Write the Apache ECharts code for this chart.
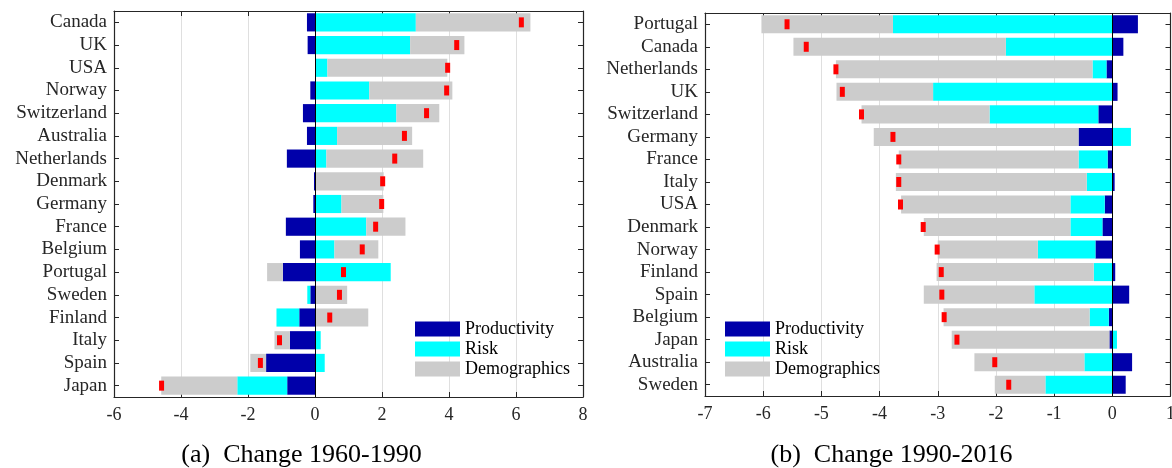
<!DOCTYPE html>
<html>
<head>
<meta charset="utf-8">
<script src="https://cdn.jsdelivr.net/npm/echarts@6/dist/echarts.min.js"></script>
<style>html,body{margin:0;padding:0;background:#fff}#c{width:1172px;height:468px}</style>
</head>
<body>
<div id="c"></div>
<script>
// Panel (a): Change 1960-1990
const countriesA = ['Canada','UK','USA','Norway','Switzerland','Australia','Netherlands','Denmark','Germany','France','Belgium','Portugal','Sweden','Finland','Italy','Spain','Japan'];
const prodA  = [-0.24,-0.22, 0.03,-0.14,-0.36,-0.24,-0.84,-0.03,-0.05,-0.87,-0.45,-0.96,-0.14,-0.47,-0.75,-1.46,-0.83];
const riskA  = [ 3.01, 2.84, 0.34, 1.62, 2.43, 0.66, 0.34, 0.01, 0.79, 1.53, 0.58, 2.26,-0.09,-0.68, 0.17, 0.29,-1.49];
const demoA  = [ 3.42, 1.62, 3.58, 2.48, 1.28, 2.24, 2.89, 2.04, 1.25, 1.17, 1.31,-0.47, 0.96, 1.59,-0.46,-0.47,-2.27];
const totalA = [ 6.16, 4.23, 3.96, 3.93, 3.33, 2.67, 2.38, 2.02, 1.99, 1.81, 1.41, 0.85, 0.73, 0.44,-1.06,-1.63,-4.58];
const ticksA = [-6,-4,-2,0,2,4,6,8];

// Panel (b): Change 1990-2016
const countriesB = ['Portugal','Canada','Netherlands','UK','Switzerland','Germany','France','Italy','USA','Denmark','Norway','Finland','Spain','Belgium','Japan','Australia','Sweden'];
const prodB  = [ 0.44, 0.19,-0.10, 0.09,-0.24,-0.58,-0.08, 0.04,-0.13,-0.17,-0.29, 0.05, 0.29,-0.06,-0.05, 0.34, 0.23];
const riskB  = [-3.77,-1.83,-0.24,-3.08,-1.87, 0.32,-0.50,-0.44,-0.59,-0.55,-0.99,-0.32,-1.34,-0.33, 0.08,-0.48,-1.15];
const demoB  = [-2.26,-3.65,-4.41,-1.66,-2.20,-3.52,-3.09,-3.28,-2.91,-2.52,-1.72,-2.70,-1.90,-2.51,-2.71,-1.89,-0.87];
const totalB = [-5.59,-5.26,-4.75,-4.64,-4.31,-3.77,-3.67,-3.67,-3.64,-3.25,-3.01,-2.94,-2.93,-2.89,-2.67,-2.02,-1.78];
const ticksB = [-7,-6,-5,-4,-3,-2,-1,0,1];

const legendNames = ['Productivity','Risk','Demographics'];
const caption = ['(a)  Change 1960-1990', '(b)  Change 1990-2016'];

const FONT = 'Liberation Serif';
const AX = '#262626';
const COL = {prod:'#0000AA', risk:'#00FFFF', demo:'#CCCCCC', total:'#FF0000'};

function xAxes(gi, ticks) {
  const mn = ticks[0], mx = ticks[ticks.length-1], iv = ticks[1]-ticks[0];
  return [
    {gridIndex:gi, type:'value', position:'bottom', min:mn, max:mx, interval:iv,
     axisLine:{show:true, onZero:false, lineStyle:{color:AX, width:1.2}},
     axisTick:{show:true, inside:true, length:5, lineStyle:{color:AX}},
     axisLabel:{color:AX, fontFamily:FONT, fontSize:18, margin:9},
     splitLine:{show:true, lineStyle:{color:'#dfdfdf', width:1}}},
    {gridIndex:gi, type:'value', position:'top', min:mn, max:mx, interval:iv,
     axisLine:{show:true, onZero:false, lineStyle:{color:AX, width:1.2}},
     axisTick:{show:true, inside:true, length:5, lineStyle:{color:AX}},
     axisLabel:{show:false}, splitLine:{show:false}}
  ];
}
function yAxes(gi, cats) {
  return [
    {gridIndex:gi, type:'category', data:cats, inverse:true, position:'left',
     axisLine:{show:true, onZero:false, lineStyle:{color:AX, width:1.2}},
     axisTick:{show:true, inside:true, length:5, alignWithLabel:true, interval:0, lineStyle:{color:AX}},
     axisLabel:{color:AX, fontFamily:FONT, fontSize:19, margin:7, interval:0},
     splitLine:{show:false}},
    {gridIndex:gi, type:'category', data:cats, inverse:true, position:'right',
     axisLine:{show:true, onZero:false, lineStyle:{color:AX, width:1.2}},
     axisTick:{show:true, inside:true, length:5, alignWithLabel:true, interval:0, lineStyle:{color:AX}},
     axisLabel:{show:false}, splitLine:{show:false}}
  ];
}
function bars(gi, prod, risk, demo, total) {
  const xi = gi*2, yi = gi*2, st = 'stack'+gi;
  const mk = (name, data, color, extra) => Object.assign({
    name, type:'bar', stack:st, xAxisIndex:xi, yAxisIndex:yi, data,
    barWidth:'80%', itemStyle:{color}, emphasis:{disabled:true}, animation:false
  }, extra||{});
  return [
    mk(legendNames[0], prod, COL.prod, {
      markLine:{silent:true, symbol:'none', label:{show:false}, z:5,
        lineStyle:{color:'#000', width:1, type:'solid'}, data:[{xAxis:0}]}
    }),
    mk(legendNames[1], risk, COL.risk),
    mk(legendNames[2], demo, COL.demo),
    {name:'Total'+gi, type:'scatter', xAxisIndex:xi, yAxisIndex:yi,
     data: total.map((v,i)=>[v,i]), symbol:'rect', symbolSize:[5,10], z:10,
     itemStyle:{color:COL.total, opacity:1}, emphasis:{disabled:true}, animation:false}
  ];
}

const chart = echarts.init(document.getElementById('c'), null, {renderer:'canvas'});
chart.setOption({
  backgroundColor:'#fff',
  animation:false,
  grid:[
    {left:114, right:589, top:11, bottom:71, outerBoundsMode:'none', containLabel:false},
    {left:705, right:1.5, top:13, bottom:72, outerBoundsMode:'none', containLabel:false}
  ],
  xAxis:[...xAxes(0, ticksA), ...xAxes(1, ticksB)],
  yAxis:[...yAxes(0, countriesA), ...yAxes(1, countriesB)],
  legend:[
    {data:legendNames, orient:'vertical', left:415, top:319, padding:0, itemWidth:45, itemHeight:15, itemGap:0,
     icon:'rect', selectedMode:false, textStyle:{fontFamily:FONT, fontSize:18, color:'#000', lineHeight:20}},
    {data:legendNames, orient:'vertical', left:725, top:319, padding:0, itemWidth:45, itemHeight:15, itemGap:0,
     icon:'rect', selectedMode:false, textStyle:{fontFamily:FONT, fontSize:18, color:'#000', lineHeight:20}}
  ],
  series:[...bars(0, prodA, riskA, demoA, totalA), ...bars(1, prodB, riskB, demoB, totalB)],
  graphic:[
    {type:'text', x:301.5, y:455, style:{text:caption[0], font:'26px "Liberation Serif"', fill:'#000', align:'center', verticalAlign:'middle'}},
    {type:'text', x:891.5, y:455, style:{text:caption[1], font:'26px "Liberation Serif"', fill:'#000', align:'center', verticalAlign:'middle'}}
  ]
});
</script>
</body>
</html>
